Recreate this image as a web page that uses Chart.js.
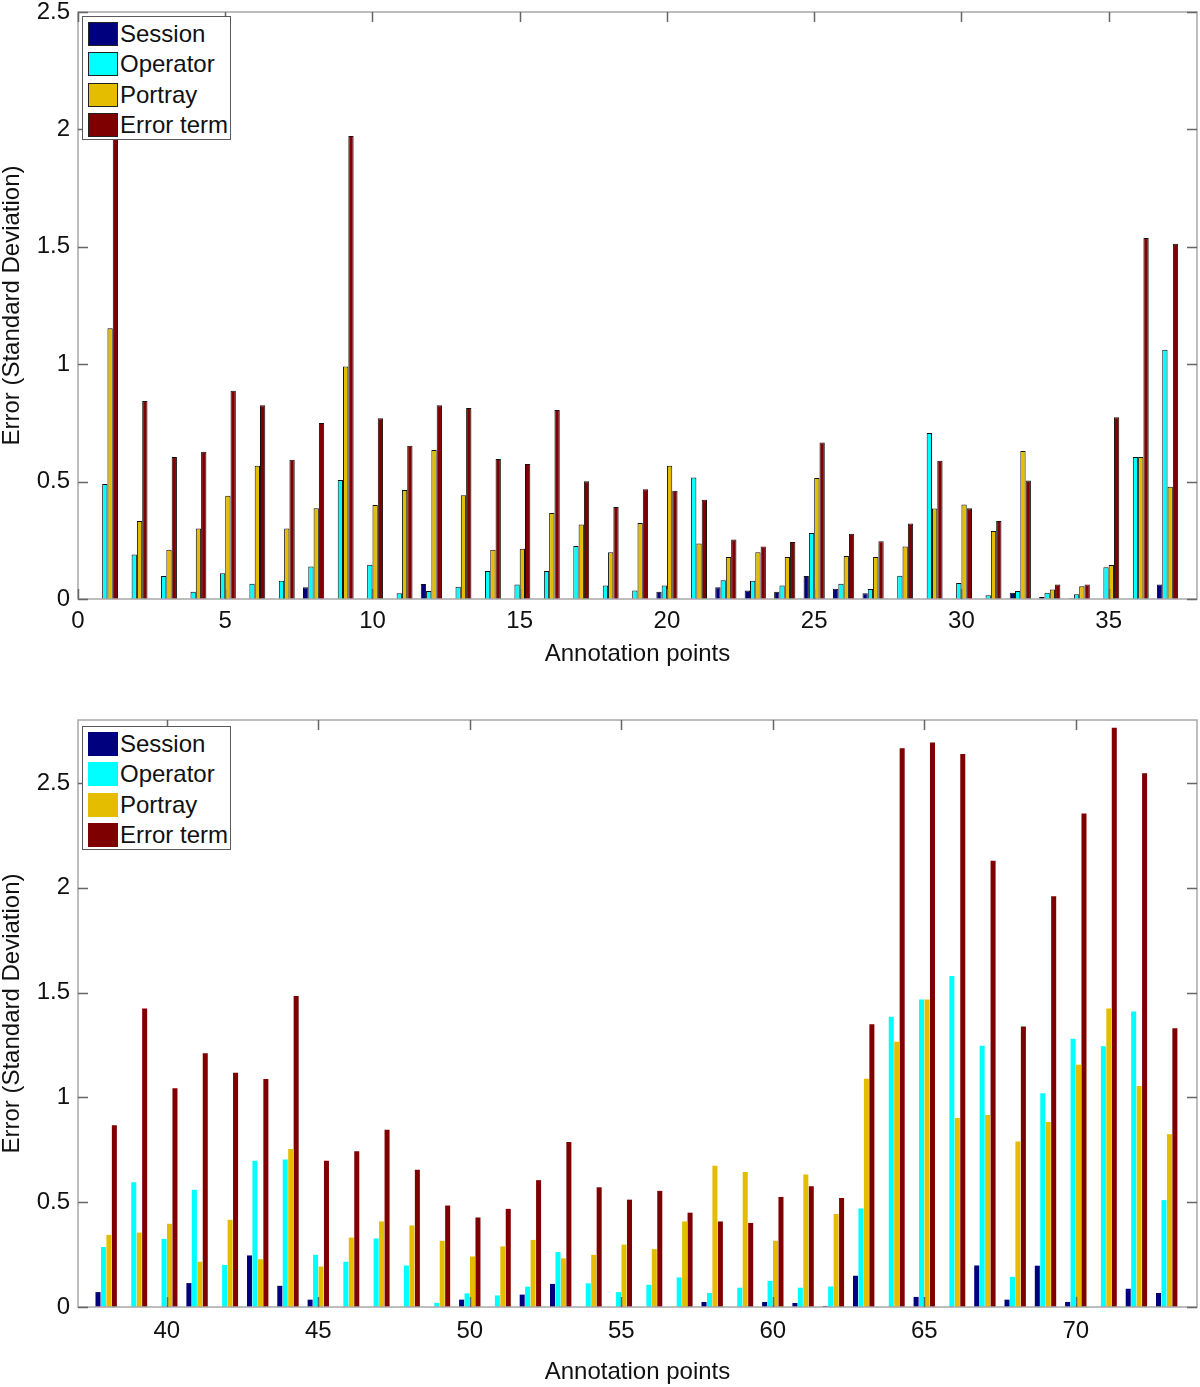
<!DOCTYPE html>
<html>
<head>
<meta charset="utf-8">
<title>Error by annotation point</title>
<script src="https://cdn.jsdelivr.net/npm/chart.js@4.4.1/dist/chart.umd.min.js"></script>
<style>
  body { margin: 0; background: #fff; }
  #page { position: relative; width: 1200px; height: 1387px; overflow: hidden; }
  #page canvas { position: absolute; left: 0; }
  .legend {
    position: absolute;
    width: 147px;
    height: 122px;
    border: 1px solid #5a5a5a;
    background: #fff;
    font-family: "Liberation Sans", Arial, sans-serif;
    font-size: 24px;
    color: #111;
    box-sizing: content-box;
  }
  .legend .row { position: absolute; left: 0; height: 30px; line-height: 30px; white-space: nowrap; }
  .legend .swatch {
    position: absolute; left: 5px; top: 3px;
    width: 28px; height: 22px;
    border: 1px solid transparent;
  }
  .legend .label { position: absolute; left: 37px; top: 0; }
</style>
</head>
<body>
<div id="page">
  <canvas id="topChart" width="1200" height="679" style="top:0px"></canvas>
  <canvas id="bottomChart" width="1200" height="679" style="top:708px"></canvas>
  <div id="topLegend" class="legend" style="left:82px;top:16px"></div>
  <div id="bottomLegend" class="legend" style="left:82px;top:726px"></div>
</div>
<script>
const SERIES_NAMES = ["Session", "Operator", "Portray", "Error term"];
const SERIES_COLORS = ["#00007f", "#00ffff", "#e4bd00", "#7f0000"];

// annotation points 1-37 (upper panel)
const pointsTop = [1, 2, 3, 4, 5, 6, 7, 8, 9, 10, 11, 12, 13, 14, 15, 16, 17, 18, 19,
  20, 21, 22, 23, 24, 25, 26, 27, 28, 29, 30, 31, 32, 33, 34, 35, 36, 37];
const sessionTop = [0, 0, 0, 0, 0, 0, 0, 0.05, 0, 0, 0, 0.064, 0, 0, 0, 0, 0, 0, 0,
  0.031, 0, 0.05, 0.036, 0.031, 0.098, 0.044, 0.024, 0, 0, 0, 0, 0.027, 0.009, 0.003, 0, 0, 0.062];
const operatorTop = [0.49, 0.19, 0.098, 0.031, 0.11, 0.065, 0.078, 0.138, 0.507, 0.146,
  0.024, 0.034, 0.052, 0.119, 0.062, 0.119, 0.226, 0.058, 0.036, 0.058, 0.517, 0.08, 0.078,
  0.058, 0.281, 0.065, 0.043, 0.099, 0.707, 0.068, 0.016, 0.034, 0.027, 0.02, 0.135, 0.605, 1.062];
const portrayTop = [1.153, 0.332, 0.21, 0.3, 0.44, 0.568, 0.3, 0.386, 0.99, 0.4, 0.464,
  0.635, 0.442, 0.21, 0.214, 0.366, 0.317, 0.199, 0.324, 0.568, 0.236, 0.179, 0.199, 0.179,
  0.515, 0.183, 0.179, 0.224, 0.385, 0.403, 0.29, 0.63, 0.04, 0.054, 0.145, 0.605, 0.478];
const errorTop = [2.1, 0.843, 0.605, 0.627, 0.887, 0.825, 0.593, 0.75, 1.972, 0.77, 0.653,
  0.825, 0.813, 0.596, 0.575, 0.805, 0.501, 0.392, 0.467, 0.461, 0.423, 0.253, 0.224, 0.243,
  0.667, 0.278, 0.246, 0.322, 0.589, 0.386, 0.332, 0.505, 0.062, 0.062, 0.774, 1.537, 1.513];

// annotation points 38-73 (lower panel)
const pointsBottom = [38, 39, 40, 41, 42, 43, 44, 45, 46, 47, 48, 49, 50, 51, 52, 53, 54,
  55, 56, 57, 58, 59, 60, 61, 62, 63, 64, 65, 66, 67, 68, 69, 70, 71, 72, 73];
const sessionBottom = [0.071, 0, 0, 0.114, 0, 0.246, 0.101, 0.035, 0, 0, 0, 0, 0.035, 0,
  0.059, 0.11, 0, 0, 0, 0, 0.024, 0, 0.024, 0.019, 0.005, 0.149, 0, 0.048, 0, 0.198, 0.035,
  0.197, 0.024, 0, 0.087, 0.067];
const operatorBottom = [0.286, 0.595, 0.325, 0.559, 0.2, 0.698, 0.703, 0.249, 0.216, 0.327,
  0.198, 0.02, 0.065, 0.055, 0.097, 0.262, 0.113, 0.071, 0.106, 0.141, 0.067, 0.092, 0.125,
  0.092, 0.098, 0.47, 1.384, 1.467, 1.579, 1.246, 0.144, 1.019, 1.279, 1.244, 1.41, 0.51];
const portrayBottom = [0.344, 0.355, 0.397, 0.216, 0.416, 0.228, 0.754, 0.193, 0.331, 0.408,
  0.389, 0.316, 0.241, 0.289, 0.32, 0.232, 0.249, 0.298, 0.276, 0.408, 0.674, 0.644, 0.316,
  0.632, 0.444, 1.089, 1.265, 1.467, 0.901, 0.916, 0.789, 0.882, 1.155, 1.424, 1.054, 0.824];
const errorBottom = [0.867, 1.424, 1.043, 1.21, 1.117, 1.087, 1.484, 0.698, 0.743, 0.846,
  0.655, 0.484, 0.427, 0.468, 0.605, 0.787, 0.571, 0.512, 0.554, 0.45, 0.408, 0.401, 0.525,
  0.576, 0.52, 1.349, 2.665, 2.693, 2.638, 2.129, 1.338, 1.959, 2.354, 2.763, 2.546, 1.33];

const xTicksTop = [0, 5, 10, 15, 20, 25, 30, 35];
const yTicksTop = [0, 0.5, 1, 1.5, 2, 2.5];
const xTicksBottom = [40, 45, 50, 55, 60, 65, 70];
const yTicksBottom = [0, 0.5, 1, 1.5, 2, 2.5];

Chart.defaults.font.family = "'Liberation Sans', Arial, Helvetica, sans-serif";
Chart.defaults.font.size = 24;
Chart.defaults.color = "#111";

// MATLAB-like box with inward tick marks on all four sides
const boxAxes = {
  id: "boxAxes",
  afterDatasetsDraw(chart) {
    const { ctx, chartArea: a, scales } = chart;
    const x = scales.x, y = scales.y;
    const len = 10;
    ctx.save();
    ctx.strokeStyle = "#a8a8a8";
    ctx.lineWidth = 1.5;
    ctx.strokeRect(a.left, a.top, a.right - a.left, a.bottom - a.top);
    ctx.strokeStyle = "#666";
    ctx.beginPath();
    x.ticks.forEach((t) => {
      const px = Math.round(x.getPixelForValue(t.value)) + 0.5;
      ctx.moveTo(px, a.top);
      ctx.lineTo(px, a.top + len);
      ctx.moveTo(px, a.bottom);
      ctx.lineTo(px, a.bottom - len);
    });
    y.ticks.forEach((t) => {
      const py = Math.round(y.getPixelForValue(t.value)) + 0.5;
      ctx.moveTo(a.left, py);
      ctx.lineTo(a.left + len, py);
      ctx.moveTo(a.right, py);
      ctx.lineTo(a.right - len, py);
    });
    ctx.stroke();
    ctx.restore();
  },
};

// keep the plot box where the reference has it: no extra label padding
function noEdgePadding(s) {
  s.paddingTop = 0;
  s.paddingBottom = 0;
  s.paddingLeft = 0;
  s.paddingRight = 0;
}

function makeChart(canvasId, legendId, cfg) {
  const canvas = document.getElementById(canvasId);
  const values = [cfg.session, cfg.operator, cfg.portray, cfg.error];

  const datasets = SERIES_NAMES.map((name, i) => ({
    label: name,
    data: cfg.points.map((p, j) => ({ x: p, y: values[i][j] })),
    backgroundColor: SERIES_COLORS[i],
    borderColor: cfg.edge ? "#111" : SERIES_COLORS[i],
    borderWidth: cfg.edge ? 1 : 0,
    categoryPercentage: 0.72,
    barPercentage: cfg.edge ? 1 : 0.92,
  }));

  const chart = new Chart(canvas, {
    type: "bar",
    data: { datasets },
    options: {
      responsive: false,
      animation: false,
      events: [],
      layout: { padding: { top: 12, right: 3, left: 0, bottom: 0 } },
      plugins: {
        legend: { display: false },
        tooltip: { enabled: false },
      },
      scales: {
        x: {
          type: "linear",
          offset: false,
          min: cfg.xMin,
          max: cfg.xMax,
          grid: { display: false, drawTicks: false },
          border: { display: false },
          afterBuildTicks: (s) => {
            s.ticks = cfg.xTicks.map((v) => ({ value: v }));
          },
          afterFit: (s) => {
            s.height = canvas.height - 12 - 587;
            noEdgePadding(s);
          },
          ticks: {
            padding: cfg.tickPad,
            maxRotation: 0,
            autoSkip: false,
            callback: (v) => String(v),
          },
          title: {
            display: true,
            text: "Annotation points",
            padding: { top: 0, bottom: cfg.titlePad },
          },
        },
        y: {
          min: 0,
          max: cfg.yMax,
          grid: { display: false, drawTicks: false },
          border: { display: false },
          afterBuildTicks: (s) => {
            s.ticks = cfg.yTicks.map((v) => ({ value: v }));
          },
          afterFit: (s) => {
            s.width = 78;
            noEdgePadding(s);
          },
          ticks: {
            padding: 8,
            callback: (v) => String(v),
          },
          title: {
            display: true,
            text: "Error (Standard Deviation)",
            padding: { top: -2.4, bottom: 0 },
          },
        },
      },
    },
    plugins: [boxAxes],
  });

  // legend drawn as html on top of the plot area
  const legendEl = document.getElementById(legendId);
  chart.data.datasets.forEach((ds, i) => {
    const row = document.createElement("div");
    row.className = "row";
    row.style.top = 2 + i * 30.4 + "px";
    const sw = document.createElement("span");
    sw.className = "swatch";
    sw.style.background = ds.backgroundColor;
    sw.style.borderColor = cfg.edge ? "#222" : ds.backgroundColor;
    const label = document.createElement("span");
    label.className = "label";
    label.textContent = ds.label;
    row.appendChild(sw);
    row.appendChild(label);
    legendEl.appendChild(row);
  });

  return chart;
}

makeChart("topChart", "topLegend", {
  points: pointsTop,
  session: sessionTop,
  operator: operatorTop,
  portray: portrayTop,
  error: errorTop,
  xMin: 0,
  xMax: 38,
  yMax: 2.5,
  xTicks: xTicksTop,
  yTicks: yTicksTop,
  edge: true,
  tickPad: 7.6,
  titlePad: 10.6,
});

makeChart("bottomChart", "bottomLegend", {
  points: pointsBottom,
  session: sessionBottom,
  operator: operatorBottom,
  portray: portrayBottom,
  error: errorBottom,
  xMin: 37.07,
  xMax: 74,
  yMax: 2.8,
  xTicks: xTicksBottom,
  yTicks: yTicksBottom,
  edge: false,
  tickPad: 10.3,
  titlePad: 0.6,
});
</script>
</body>
</html>
